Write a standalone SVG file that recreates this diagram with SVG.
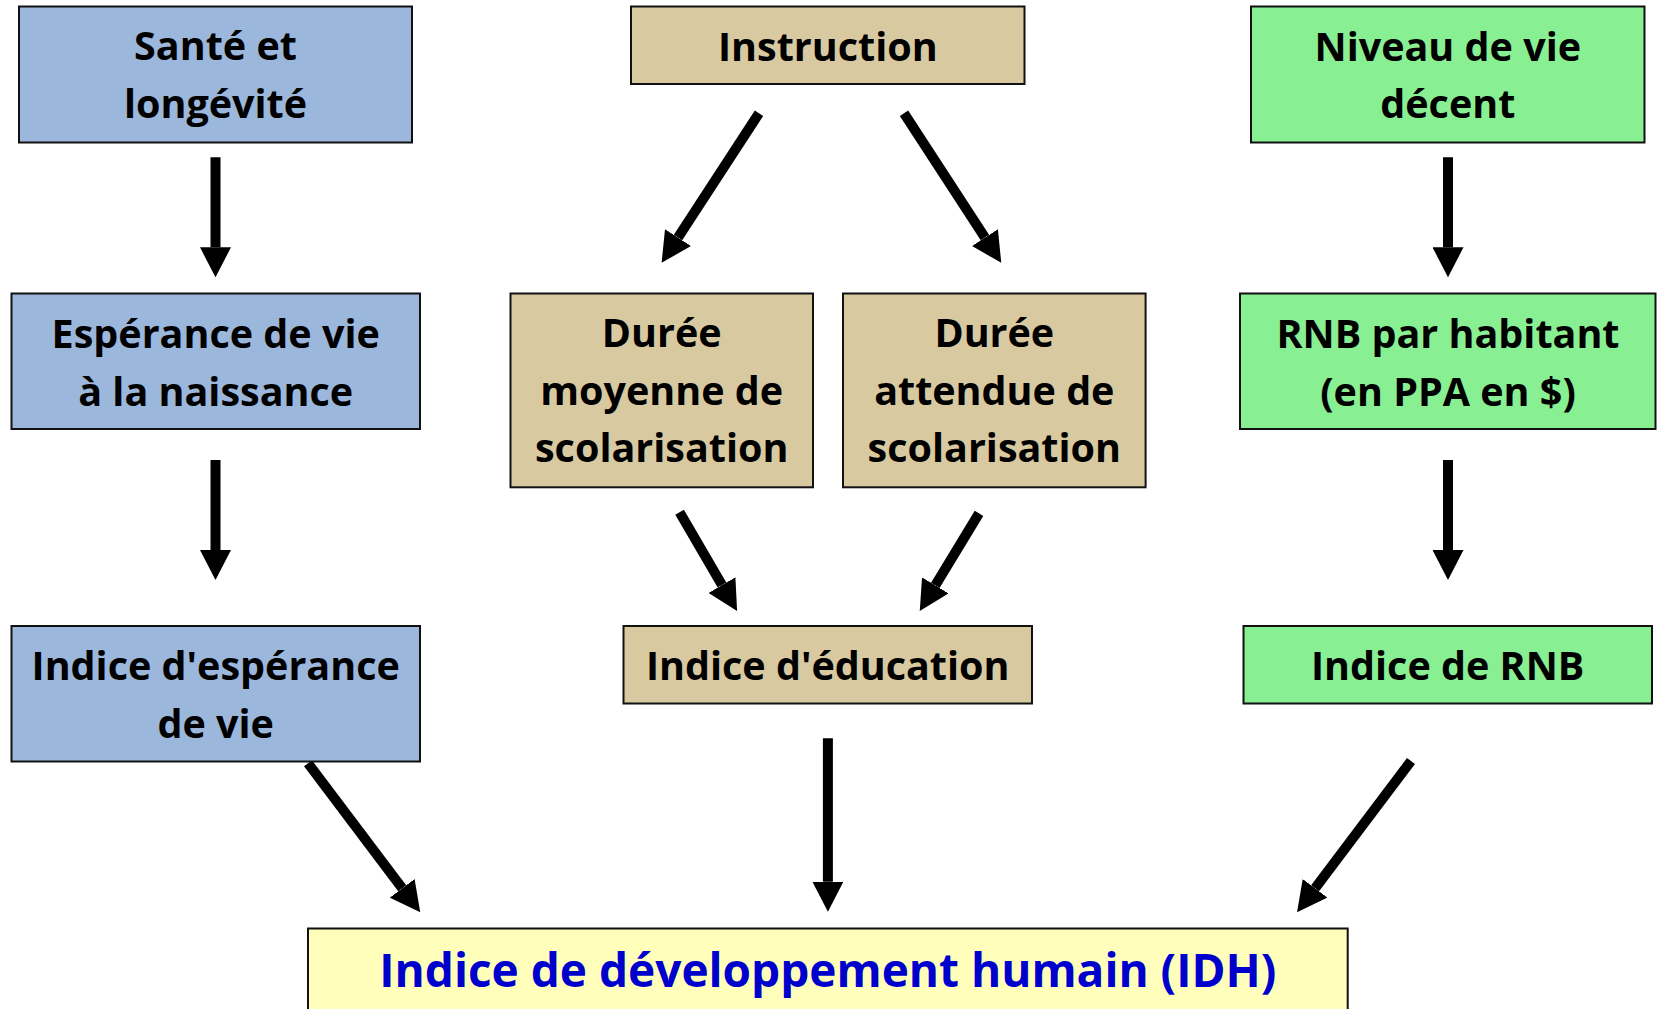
<svg xmlns="http://www.w3.org/2000/svg" width="1657" height="1009" viewBox="0 0 1657 1009">
<style>
.box{stroke:#111;stroke-width:2}
.blue{fill:#9BB7DB}
.tan{fill:#D8C9A1}
.green{fill:#88F093}
.yellow{fill:#FFFFBB}
text{font-family:"Open Sans",Lato,sans-serif;font-weight:bold;font-size:39.5px;fill:#000;text-anchor:middle}
.idh{font-size:46px;fill:#0000CC}
.arr{stroke:#000;stroke-width:10;fill:none;marker-end:url(#ah)}
</style>
<defs>
<marker id="ah" viewBox="0 0 30 31" refX="0" refY="15.5" markerWidth="3" markerHeight="3.1" orient="auto" markerUnits="strokeWidth">
<path d="M0,0 L30,15.5 L0,31 z" fill="#000"/>
</marker>
</defs>
<rect width="1657" height="1009" fill="#fff"/>
<g id="connectors">
<line class="arr" x1="215.5" y1="157.3" x2="215.5" y2="247.3"/>
<line class="arr" x1="215.5" y1="460" x2="215.5" y2="550"/>
<line class="arr" x1="1448" y1="157.3" x2="1448" y2="247.3"/>
<line class="arr" x1="1448" y1="460" x2="1448" y2="550"/>
<line class="arr" x1="759" y1="113.3" x2="678" y2="237.6"/>
<line class="arr" x1="904" y1="113.3" x2="984.9" y2="237.6"/>
<line class="arr" x1="679.6" y1="512.3" x2="722" y2="585.1"/>
<line class="arr" x1="979" y1="513.3" x2="935.3" y2="585.4"/>
<line class="arr" x1="827.9" y1="738.3" x2="827.9" y2="881.7"/>
<line class="arr" x1="308" y1="763.3" x2="402.2" y2="888.3"/>
<line class="arr" x1="1411" y1="761" x2="1315.1" y2="888.3"/>
</g>
<g id="sante"><rect class="box blue" x="19" y="6.5" width="393" height="136"/><text x="215.5" y="60">Santé et</text><text x="215.5" y="118">longévité</text></g>
<g id="instruction"><rect class="box tan" x="631" y="6.5" width="393.5" height="77.5"/><text x="827.8" y="61">Instruction</text></g>
<g id="niveau"><rect class="box green" x="1251" y="6.5" width="393.5" height="136"/><text x="1447.8" y="61">Niveau de vie</text><text x="1447.8" y="118">décent</text></g>
<g id="esperance"><rect class="box blue" x="11.5" y="293.5" width="408.5" height="135.5"/><text x="215.7" y="347.5">Espérance de vie</text><text x="215.7" y="406">à la naissance</text></g>
<g id="duree-moyenne"><rect class="box tan" x="510.5" y="293.5" width="302.5" height="193.8"/><text x="661.7" y="346.7">Durée</text><text x="661.7" y="405">moyenne de</text><text x="661.7" y="461.7">scolarisation</text></g>
<g id="duree-attendue"><rect class="box tan" x="843" y="293.5" width="302.6" height="193.8"/><text x="994.3" y="346.7">Durée</text><text x="994.3" y="405">attendue de</text><text x="994.3" y="461.7">scolarisation</text></g>
<g id="rnb-habitant"><rect class="box green" x="1240" y="293.5" width="415.5" height="135.5"/><text x="1448" y="347.5">RNB par habitant</text><text x="1448" y="406">(en PPA en $)</text></g>
<g id="indice-esperance"><rect class="box blue" x="11.5" y="626" width="408.5" height="135.5"/><text x="215.7" y="680">Indice d'espérance</text><text x="215.7" y="738.3">de vie</text></g>
<g id="indice-education"><rect class="box tan" x="623.5" y="626" width="408.5" height="77.5"/><text x="827.7" y="680">Indice d'éducation</text></g>
<g id="indice-rnb"><rect class="box green" x="1243.5" y="626" width="408.5" height="77.5"/><text x="1447.7" y="680">Indice de RNB</text></g>
<g id="idh"><rect class="box yellow" x="308" y="928.5" width="1039.7" height="90"/><text class="idh" x="827.8" y="986.7">Indice de développement humain (IDH)</text></g>
</svg>
